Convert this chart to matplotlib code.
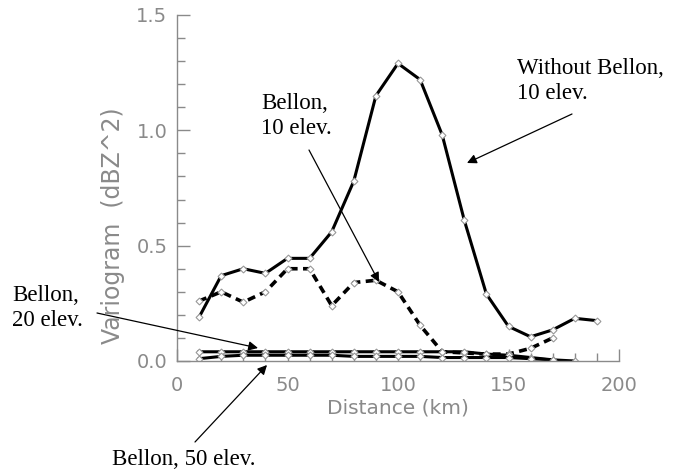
import matplotlib.pyplot as plt
from matplotlib.ticker import MultipleLocator

# distances (km) and variogram values
dist_without = [10, 20, 30, 40, 50, 60, 70, 80, 90, 100, 110, 120, 130, 140, 150, 160, 170, 180, 190]
var_without = [0.19, 0.37, 0.40, 0.38, 0.445, 0.445, 0.56, 0.78, 1.15, 1.29, 1.22, 0.98, 0.61,
               0.29, 0.15, 0.105, 0.135, 0.185, 0.175]

dist_b10 = [10, 20, 30, 40, 50, 60, 70, 80, 90, 100, 110, 120, 130, 140, 150, 160, 170]
var_b10 = [0.26, 0.30, 0.255, 0.30, 0.40, 0.40, 0.24, 0.34, 0.35, 0.30, 0.155, 0.04, 0.035,
           0.03, 0.03, 0.055, 0.10]

dist_b20 = [10, 20, 30, 40, 50, 60, 70, 80, 90, 100, 110, 120, 130, 140, 150, 160, 170]
var_b20 = [0.04, 0.04, 0.04, 0.04, 0.04, 0.04, 0.04, 0.04, 0.04, 0.04, 0.04, 0.04, 0.04,
           0.03, 0.025, 0.015, 0.005]

dist_b50 = [10, 20, 30, 40, 50, 60, 70, 80, 90, 100, 110, 120, 130, 140, 150, 160, 170, 180]
var_b50 = [0.01, 0.02, 0.025, 0.025, 0.025, 0.025, 0.025, 0.02, 0.02, 0.02, 0.02, 0.015,
           0.015, 0.015, 0.015, 0.01, 0.005, 0.0]

W, H = 682, 472
grey = '#8a8a8a'

fig = plt.figure(figsize=(W / 100, H / 100), dpi=100)
ax = fig.add_axes([177 / W, 1 - 361 / H, 442 / W, 346 / H])

mk = dict(marker='D', markersize=3.5, markerfacecolor='white', markeredgecolor='#999999',
          markeredgewidth=0.8)
ax.plot(dist_without, var_without, color='black', lw=2.2, **mk)
ax.plot(dist_b10, var_b10, color='black', lw=2.6, ls=(0, (2.2, 1.5)), **mk)
ax.plot(dist_b20, var_b20, color='black', lw=2.2, **mk)
ax.plot(dist_b50, var_b50, color='black', lw=2.2, **mk)

ax.set_xlim(0, 200)
ax.set_ylim(0, 1.5)
ax.xaxis.set_major_locator(MultipleLocator(50))
ax.xaxis.set_minor_locator(MultipleLocator(10))
ax.yaxis.set_major_locator(MultipleLocator(0.5))
ax.yaxis.set_minor_locator(MultipleLocator(0.1))
ax.xaxis.set_major_formatter(plt.FuncFormatter(lambda v, p: f'{v:.0f}'))
ax.yaxis.set_major_formatter(plt.FuncFormatter(lambda v, p: f'{v:.1f}'))

for s in ['top', 'right']:
    ax.spines[s].set_visible(False)
for s in ['left', 'bottom']:
    ax.spines[s].set_color(grey)
    ax.spines[s].set_linewidth(1)

ax.tick_params(which='both', direction='in', color=grey, labelcolor=grey, labelsize=14)
ax.tick_params(which='major', length=9, width=1)
ax.tick_params(which='minor', length=6, width=1)
ax.tick_params(axis='x', pad=11)
ax.tick_params(axis='y', pad=7)

fig.text(113 / W, 1 - 226 / H, 'Variogram  (dBZ^2)', rotation=90, ha='center', va='center',
         color=grey, fontsize=17)
fig.text(398 / W, 1 - 408 / H, 'Distance (km)', ha='center', va='center', color=grey,
         fontsize=14.5)


def px(x, y):
    return (x, H - y)


serif = dict(family='Liberation Serif', fontsize=16.5, color='black', linespacing=1.25)
fig.text(517 / W, 1 - 58 / H, 'Without Bellon,\n10 elev.', ha='left', va='top', **serif)
fig.text(261 / W, 1 - 93 / H, 'Bellon,\n10 elev.', ha='left', va='top', **serif)
fig.text(12 / W, 1 - 285 / H, 'Bellon,\n20 elev.', ha='left', va='top', **serif)
fig.text(112 / W, 1 - 449 / H, 'Bellon, 50 elev.', ha='left', va='top', **serif)

arrows = [((572, 114), (467, 163)),
          ((309, 150), (379, 282)),
          ((97, 313), (258, 348)),
          ((195, 442), (267, 365))]
for start, end in arrows:
    ax.annotate('', xy=px(*end), xytext=px(*start), xycoords='figure pixels',
                textcoords='figure pixels', annotation_clip=False,
                arrowprops=dict(arrowstyle='-|>', color='black', lw=0.9,
                                mutation_scale=14, shrinkA=0, shrinkB=0))

plt.savefig('out.png', dpi=100)
